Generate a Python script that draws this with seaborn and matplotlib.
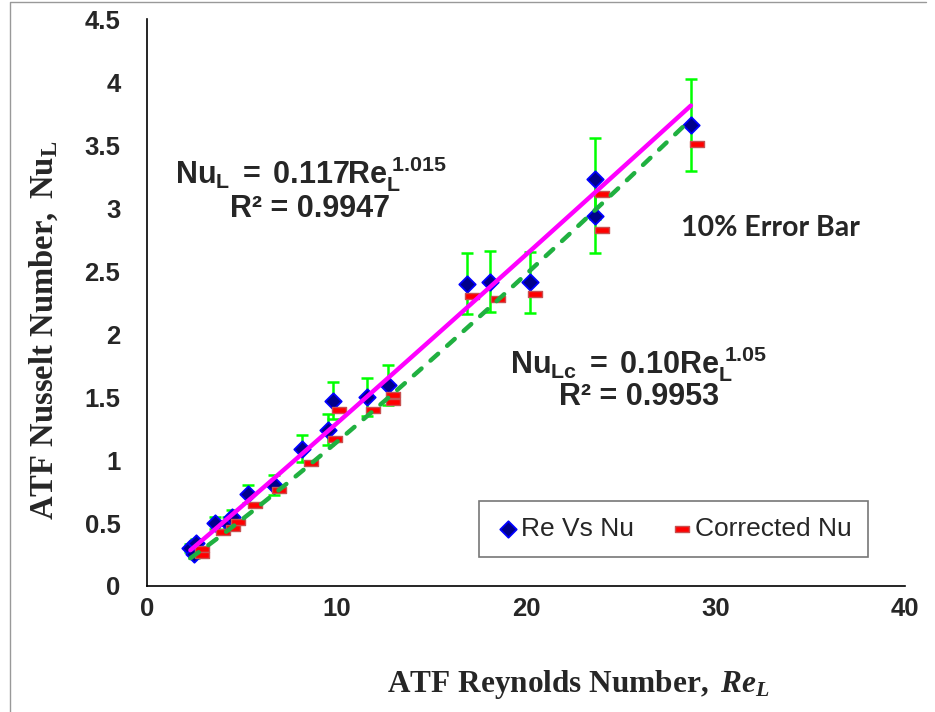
import numpy as np
import pandas as pd
import matplotlib
matplotlib.use("Agg")
import matplotlib.pyplot as plt
import seaborn as sns
from matplotlib.path import Path
from matplotlib.lines import Line2D

# ---- data ----
re_blue = [2.3, 2.5, 2.6, 3.6, 4.3, 4.5, 5.35, 6.7, 8.2, 9.55, 9.8, 11.6, 12.75,
           16.9, 18.1, 20.2, 23.65, 23.65, 28.7]
nu_blue = [0.30, 0.25, 0.34, 0.50, 0.50, 0.55, 0.73, 0.80, 1.09, 1.24, 1.47, 1.50, 1.595,
           2.40, 2.415, 2.41, 3.235, 2.94, 3.66]
re_corr = [2.9, 2.9, 4.03, 4.55, 4.82, 5.7, 7.0, 8.65, 9.92, 10.15, 11.95, 13.0, 13.0,
           17.17, 18.5, 20.5, 24.0, 24.0, 29.0]
nu_corr = [0.29, 0.245, 0.43, 0.46, 0.505, 0.64, 0.76, 0.98, 1.165, 1.40, 1.40, 1.52, 1.46,
           2.30, 2.28, 2.32, 3.11, 2.83, 3.51]
error_frac = 0.10
xticks = [0, 10, 20, 30, 40]
yticks = [0, 0.5, 1, 1.5, 2, 2.5, 3, 3.5, 4, 4.5]
ytick_labels = ["0", "0.5", "1", "1.5", "2", "2.5", "3", "3.5", "4", "4.5"]
series_names = ["Re Vs Nu", "Corrected Nu"]

sns.set_style("white")
plt.rcParams['font.family'] = ['Liberation Sans', 'DejaVu Sans']
plt.rcParams['mathtext.fontset'] = 'custom'
plt.rcParams['mathtext.rm'] = 'Liberation Sans:bold'
plt.rcParams['mathtext.bf'] = 'Liberation Sans:bold'
plt.rcParams['mathtext.sf'] = 'Liberation Serif:bold'
plt.rcParams['mathtext.it'] = 'Liberation Serif:bold:italic'

fig = plt.figure(figsize=(9.35, 7.12), dpi=100)
ax = fig.add_axes([0.157, 0.177, 0.811, 0.796])

df_b = pd.DataFrame({"Re": re_blue, "Nu": nu_blue})
df_c = pd.DataFrame({"Re": re_corr, "Nu": nu_corr})

# error bars (10%)
ax.errorbar(df_b["Re"], df_b["Nu"], yerr=error_frac * df_b["Nu"], fmt="none",
            ecolor="#00FF00", elinewidth=1.8, capsize=4.3, capthick=1.8, zorder=2)

sns.scatterplot(data=df_b, x="Re", y="Nu", marker="D", s=70, color="#00008B",
                edgecolor="#0000FF", linewidth=1.3, ax=ax, zorder=3, label=series_names[0])
dash_marker = Path([(-1, -0.45), (1, -0.45), (1, 0.45), (-1, 0.45), (-1, -0.45)],
                   [Path.MOVETO, Path.LINETO, Path.LINETO, Path.LINETO, Path.CLOSEPOLY])
sns.scatterplot(data=df_c, x="Re", y="Nu", marker=dash_marker, s=95, color="#FF0000",
                edgecolor="#C85050", linewidth=1.0, ax=ax, zorder=4, label=series_names[1])

# power-law trendlines fitted in log-log space
xs = np.linspace(min(re_blue), max(re_blue), 100)
b1, a1 = np.polyfit(np.log(re_blue), np.log(nu_blue), 1)
b2, a2 = np.polyfit(np.log(re_corr), np.log(nu_corr), 1)
fit1 = pd.DataFrame({"Re": xs, "Nu": np.exp(a1) * xs ** b1})
fit2 = pd.DataFrame({"Re": xs, "Nu": np.exp(a2) * xs ** b2})
sns.lineplot(data=fit2, x="Re", y="Nu", color="#20B040", lw=3.2, ax=ax, zorder=5,
             linestyle=(0, (2.3, 2.7)), dash_capstyle="round", legend=False)
sns.lineplot(data=fit1, x="Re", y="Nu", color="#FF00FF", lw=3.2, ax=ax, zorder=6, legend=False)

ax.set_xlim(0, 40)
ax.set_ylim(0, 4.5)
ax.set_xticks(xticks)
ax.set_yticks(yticks)
ax.set_yticklabels(ytick_labels)
for lab in ax.get_xticklabels() + ax.get_yticklabels():
    lab.set_fontweight("bold")
    lab.set_fontsize(18.5)
ax.tick_params(axis="both", direction="out", length=5, width=1, color="#808080")
ax.tick_params(axis="x", pad=3)
ax.tick_params(axis="y", pad=14)
for s in ["top", "right"]:
    ax.spines[s].set_visible(False)
for s in ["left", "bottom"]:
    ax.spines[s].set_color("black")
    ax.spines[s].set_linewidth(1.2)

ax.set_xlabel(r"$\mathsf{ATF\ Reynolds\ Number,}\ \mathit{Re_L}$", fontsize=22.5)
ax.set_ylabel(r"$\mathsf{ATF\ Nusselt\ Number,\ Nu_L}$", fontsize=23.5)
ax.xaxis.set_label_coords(0.569, -0.145)
ax.yaxis.set_label_coords(-0.114, 0.451)

ax.text(0.332, 0.7425, r"$\mathrm{Nu_L\ =\ 0.117Re_L^{\ 1.015}}$", transform=fig.transFigure,
        fontsize=22, ha="center", va="baseline")
ax.text(0.332, 0.6957, "R² = 0.9947", transform=fig.transFigure, fontsize=22,
        fontweight="bold", ha="center", va="baseline")
ax.text(0.683, 0.4757, r"$\mathrm{Nu_{Lc}\ =\ 0.10Re_L^{\ 1.05}}$", transform=fig.transFigure,
        fontsize=22, ha="center", va="baseline")
ax.text(0.683, 0.4312, "R² = 0.9953", transform=fig.transFigure, fontsize=22,
        fontweight="bold", ha="center", va="baseline")
ax.text(0.824, 0.68, "10% Error Bar", transform=fig.transFigure, fontsize=20.5,
        fontweight="bold", family=["Lato", "DejaVu Sans"], ha="center", va="center")

leg = ax.legend(loc="upper left", bbox_to_anchor=(0.5123, 0.2963), bbox_transform=fig.transFigure,
                ncol=2, frameon=True, fancybox=False, fontsize=19, handletextpad=0.0,
                columnspacing=1.3, borderpad=0.6, borderaxespad=0.0, handlelength=1.0)
leg.get_frame().set_edgecolor("#555555")
leg.get_frame().set_linewidth(1.2)

# outer chart border
fig.add_artist(Line2D([0.011, 0.011, 0.99], [0.0, 0.997, 0.997], transform=fig.transFigure,
                      color="#999999", lw=1.0))

fig.savefig("out.png", dpi=100)
